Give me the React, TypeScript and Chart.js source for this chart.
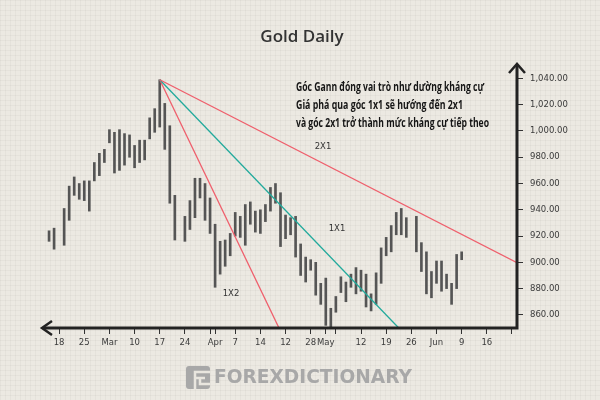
import React, { useEffect, useRef } from "react";
import { Chart, registerables } from "chart.js";

Chart.register(...registerables);

// Trading-day index (0 = Feb 18) for each daily bar
const dayIndex = [
  -2, -1, 1, 2, 3, 4, 5, 6, 7, 8, 9, 10, 11, 12, 13, 14, 15, 16, 17, 18, 19, 20, 21, 22, 23,
  25, 26, 27, 28, 29, 30, 31, 32, 33, 34, 35, 36, 37, 38, 39, 40, 41, 42, 43, 44, 45, 46, 47,
  48, 49, 50, 51, 52, 53, 54, 55, 56, 57, 58, 59, 60, 61, 62, 63, 64, 65, 66, 67, 68, 69,
  71, 72, 73, 74, 75, 76, 77, 78, 79, 80,
];
const lows = [
  916, 910, 913, 932, 951, 948, 947, 939, 962, 966, 976, 991, 968, 970, 974, 980, 972, 976, 978, 994, 999, 1003, 986, 945, 917,
  916, 925, 934, 949, 932, 922, 881, 891, 897, 905, 920, 919, 913, 929, 923, 922, 931, 939, 945, 912, 918, 921, 904,
  890, 885, 894, 875, 868, 852, 849, 862, 877, 870, 881, 876, 878, 866, 863, 868, 884, 905, 908, 921, 921, 919,
  908, 893, 876, 873, 884, 878, 880, 868, 880, 902,
];
const highs = [
  924, 926, 941, 958, 965, 960, 962, 962, 976, 983, 986, 1001, 999, 1001, 998, 997, 989, 993, 993, 1010, 1017, 1039, 1021, 1004, 951,
  935, 947, 964, 964, 960, 949, 929, 916, 917, 922, 938, 935, 944, 946, 939, 940, 944, 957, 960, 953, 936, 934, 935,
  914, 904, 902, 900, 884, 888, 865, 874, 889, 885, 891, 896, 894, 891, 876, 892, 911, 919, 928, 938, 941, 934,
  935, 915, 908, 893, 901, 901, 891, 884, 906, 908,
];

// Gann angle lines: start (peak) and end points
const gannStart = { x: 20, y: 1039 };
const gann1x2End = { x: 43.7, y: 850 };
const gann1x1End = { x: 67.5, y: 850 };
const gann2x1End = { x: 91, y: 899.7 };

// Axis ticks
const yTickValues = [860, 880, 900, 920, 940, 960, 980, 1000, 1020, 1040];
const xTickIndex = [0, 5, 10, 15, 20, 25, 30, 31, 35, 40, 45, 50, 53, 55, 60, 65, 70, 75, 80, 85, 90];
const xTickLabels = ["18", "25", "Mar", "10", "17", "24", "", "Apr", "7", "14", "12", "28", "May", "", "12", "19", "26", "Jun", "9", "16", ""];

const noteLines = [
  "Góc Gann đóng vai trò như dường kháng cự",
  "Giá phá qua góc 1x1 sẽ hướng đến 2x1",
  "và góc 2x1 trở thành mức kháng cự tiếp theo",
];

const overlay = {
  id: "overlay",
  afterDraw(chart: any) {
    const ctx = chart.ctx as CanvasRenderingContext2D;
    const { left, right, top, bottom } = chart.chartArea;
    ctx.save();
    // axes
    ctx.strokeStyle = "#222";
    ctx.lineWidth = 3;
    ctx.beginPath();
    ctx.moveTo(left + 1, bottom);
    ctx.lineTo(right + 1.5, bottom);
    ctx.moveTo(right, bottom + 1.5);
    ctx.lineTo(right, top + 1);
    ctx.stroke();
    ctx.lineWidth = 2.5;
    ctx.lineJoin = "miter";
    ctx.beginPath();
    ctx.moveTo(left + 10, bottom - 7);
    ctx.lineTo(left, bottom);
    ctx.lineTo(left + 10, bottom + 7);
    ctx.moveTo(right - 8, top + 9);
    ctx.lineTo(right, top);
    ctx.lineTo(right + 8, top + 9);
    ctx.stroke();

    // title
    ctx.fillStyle = "#333";
    ctx.font = "600 17px 'Open Sans'";
    ctx.textAlign = "center";
    ctx.textBaseline = "middle";
    ctx.fillText("Gold Daily", 302, 37, 84);

    // note
    ctx.fillStyle = "#151515";
    ctx.font = "bold 11.5px 'Open Sans'";
    ctx.textAlign = "left";
    const widths = [188, 167, 193];
    const ys = [88, 106, 124];
    noteLines.forEach((t, i) => ctx.fillText(t, 296, ys[i], widths[i]));

    // gann labels
    ctx.fillStyle = "#333";
    ctx.font = "8.5px 'DejaVu Sans'";
    ctx.textAlign = "center";
    ctx.fillText("2X1", 323, 147);
    ctx.fillText("1X1", 337, 229);
    ctx.fillText("1X2", 231, 294);

    // watermark
    ctx.fillStyle = "#a8a8a8";
    const lx = 186, ly = 366, lw = 24, lh = 23;
    ctx.beginPath();
    (ctx as any).roundRect(lx, ly, lw, lh, 3);
    ctx.fill();
    ctx.strokeStyle = "#e9e6df";
    ctx.lineWidth = 2.5;
    ctx.beginPath();
    ctx.moveTo(lx + 9, ly + lh);
    ctx.lineTo(lx + 9, ly + 6);
    ctx.lineTo(lx + lw, ly + 6);
    ctx.moveTo(lx + 9, ly + 12);
    ctx.lineTo(lx + 19, ly + 12);
    ctx.moveTo(lx + 14, ly + 12);
    ctx.lineTo(lx + 14, ly + 18);
    ctx.lineTo(lx + lw, ly + 18);
    ctx.stroke();
    ctx.font = "bold 19px 'DejaVu Sans'";
    ctx.textAlign = "left";
    ctx.fillText("FOREXDICTIONARY", 214, 378, 198);
    ctx.restore();
  },
};

export default function App() {
  const ref = useRef<HTMLCanvasElement>(null);
  useEffect(() => {
    document.body.style.margin = "0";
    const bars = dayIndex.map((x, i) => ({ x, y: [lows[i], highs[i]] }));
    const chart = new Chart(ref.current as HTMLCanvasElement, {
      type: "bar",
      data: {
        datasets: [
          {
            type: "line",
            data: [gannStart, gann2x1End],
            borderColor: "#ef5f6c",
            borderWidth: 1.3,
            pointRadius: 0,
            order: 0,
          } as any,
          {
            type: "line",
            data: [gannStart, gann1x1End],
            borderColor: "#22aa9c",
            borderWidth: 1.3,
            pointRadius: 0,
            order: 0,
          } as any,
          {
            type: "line",
            data: [gannStart, gann1x2End],
            borderColor: "#ef5f6c",
            borderWidth: 1.3,
            pointRadius: 0,
            order: 0,
          } as any,
          {
            type: "bar",
            data: bars as any,
            backgroundColor: "#555555",
            borderWidth: 0,
            barThickness: 2,
            order: 1,
          } as any,
        ],
      },
      options: {
        responsive: false,
        animation: false,
        layout: { padding: { left: 42, top: 64, right: 0, bottom: 0 } },
        plugins: { legend: { display: false }, tooltip: { enabled: false }, title: { display: false } },
        scales: {
          x: {
            type: "linear",
            min: -3.4,
            max: 91,
            offset: false,
            afterFit: (s: any) => { s.height = 72; },
            afterBuildTicks: (s: any) => { s.ticks = xTickIndex.map((v) => ({ value: v })); },
            grid: { offset: false, drawOnChartArea: false, drawTicks: true, tickLength: 6, color: "#333", lineWidth: 1 },
            border: { display: false },
            ticks: {
              autoSkip: false,
              maxRotation: 0,
              minRotation: 0,
              padding: 4,
              color: "#3a3a3a",
              font: { family: "DejaVu Sans", size: 8.5 },
              callback: (_v: any, i: number) => xTickLabels[i],
            },
          },
          y: {
            position: "right",
            min: 850,
            max: 1051,
            afterFit: (s: any) => { s.width = 83; },
            afterBuildTicks: (s: any) => { s.ticks = yTickValues.map((v) => ({ value: v })); },
            grid: { drawOnChartArea: false, drawTicks: true, tickLength: 6, color: "#333", lineWidth: 1 },
            border: { display: false },
            ticks: {
              padding: 7,
              color: "#3a3a3a",
              font: { family: "DejaVu Sans", size: 8.5 },
              callback: (v: any) => Number(v).toLocaleString("en-US", { minimumFractionDigits: 2, maximumFractionDigits: 2 }),
            },
          },
        },
      },
      plugins: [overlay],
    });
    return () => chart.destroy();
  }, []);
  return (
    <div
      style={{
        position: "fixed",
        left: 0,
        top: 0,
        width: 600,
        height: 400,
        backgroundColor: "#ece9e2",
        backgroundImage:
          "linear-gradient(rgba(0,0,0,0.03) 1px, transparent 1px), linear-gradient(90deg, rgba(0,0,0,0.03) 1px, transparent 1px)",
        backgroundSize: "5px 5px",
      }}
    >
      <canvas ref={ref} width={600} height={400} />
    </div>
  );
}
